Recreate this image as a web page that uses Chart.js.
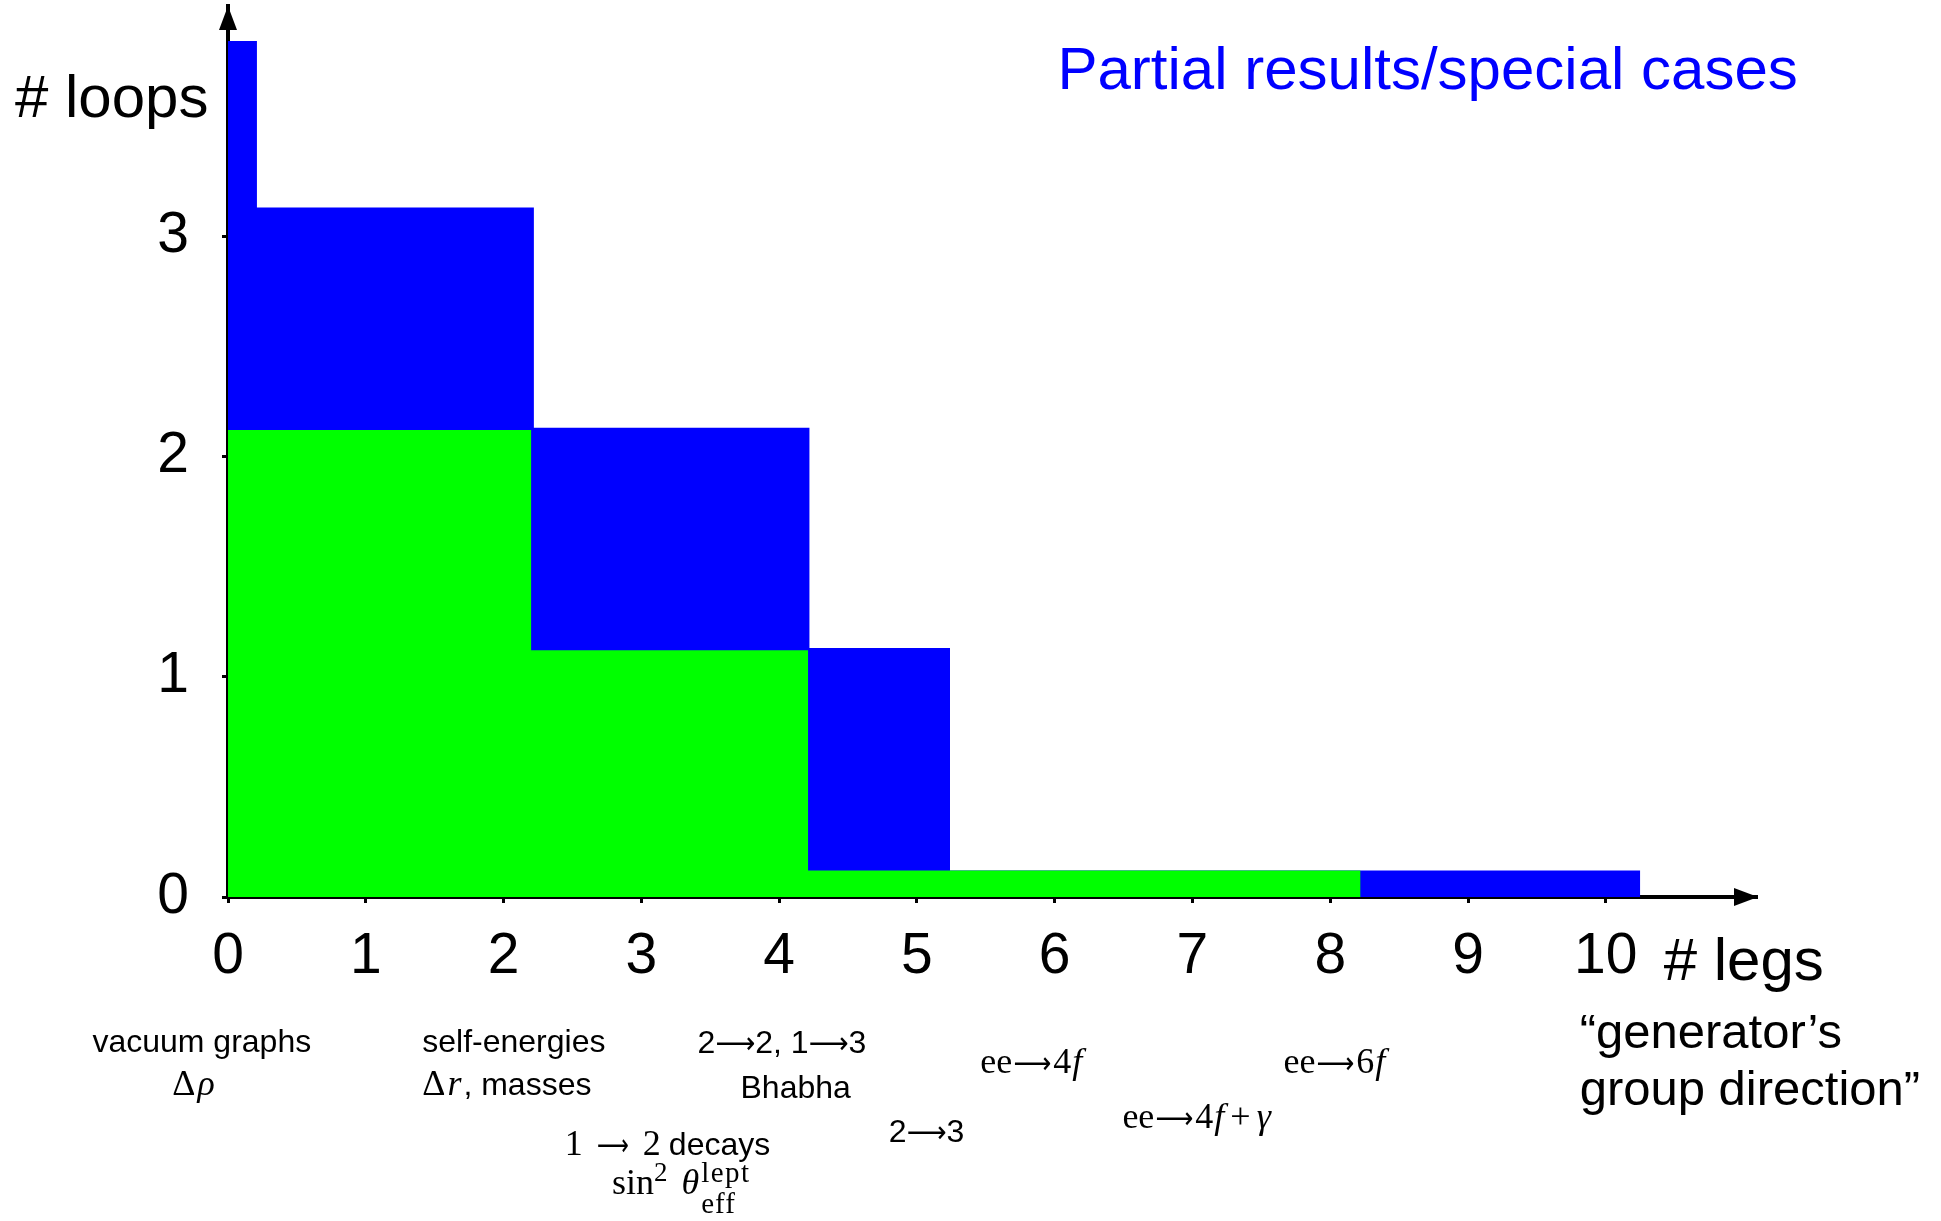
<!DOCTYPE html>
<html><head><meta charset="utf-8">
<script src="https://cdn.jsdelivr.net/npm/chart.js@4.4.1/dist/chart.umd.min.js"></script>
<style>html,body{margin:0;padding:0;background:#fff;overflow:hidden}#wrap{width:1941px;height:1221px}</style>
</head><body><div id="wrap"><canvas id="c" width="1941" height="1221"></canvas></div>
<script>
// ---- data ----
const xTickValues = [0, 1, 2, 3, 4, 5, 6, 7, 8, 9, 10];
const yTickValues = [0, 1, 2, 3];
// complete results (green), step boundaries in # legs and heights in # loops
const completeLegs  = [0, 2.2, 4.21, 8.22];
const completeLoops = [2.12, 1.12, 0.12, 0];
// partial results / special cases (blue)
const partialLegs  = [0, 0.21, 2.22, 4.22, 5.24, 10.25];
const partialLoops = [3.886, 3.13, 2.13, 1.13, 0.12, 0.12];

const SANS = '"Liberation Sans", Arial, Helvetica, sans-serif';
const SERIF = '"Liberation Serif", "Times New Roman", serif';

function pts(xs, ys) { return xs.map((x, i) => ({x: x, y: ys[i]})); }

function runWidth(ctx, r) {
  ctx.font = r.font;
  ctx.letterSpacing = (r.ls || 0) + 'px';
  const w = ctx.measureText(r.t).width;
  ctx.letterSpacing = '0px';
  return w;
}
function drawOne(ctx, r, x, y) {
  if (r.w) {
    const nat = runWidth(ctx, r);
    ctx.font = r.font;
    ctx.save(); ctx.translate(x, y + (r.dy || 0)); ctx.scale(r.w / nat, 1);
    ctx.fillText(r.t, 0, 0); ctx.restore();
  } else {
    ctx.font = r.font;
    ctx.letterSpacing = (r.ls || 0) + 'px';
    ctx.fillText(r.t, x, y + (r.dy || 0));
    ctx.letterSpacing = '0px';
  }
}
function drawRuns(ctx, runs, x, y, align) {
  const widths = runs.map(r => {
    if (r.stack) return Math.max(...r.stack.map(s => runWidth(ctx, s))) + (r.gap || 0) + (r.pre || 0);
    return (r.w || runWidth(ctx, r)) + (r.gap || 0) + (r.pre || 0);
  });
  const total = widths.reduce((p, c) => p + c, 0);
  let cx = align === 'center' ? x - total / 2 : (align === 'right' ? x - total : x);
  ctx.textAlign = 'left';
  ctx.textBaseline = 'alphabetic';
  runs.forEach((r, i) => {
    const px = cx + (r.pre || 0);
    if (r.stack) r.stack.forEach(s => drawOne(ctx, s, px, y));
    else drawOne(ctx, r, px, y);
    cx += widths[i];
  });
}

const overlay = {
  id: 'overlay',
  afterDraw(chart) {
    const ctx = chart.ctx, a = chart.chartArea;
    const xs = chart.scales.x;
    ctx.save();
    ctx.fillStyle = '#000';
    // arrow heads at the ends of the axes
    ctx.beginPath();
    ctx.moveTo(a.left, a.top); ctx.lineTo(a.left - 9, a.top + 24); ctx.lineTo(a.left + 9, a.top + 24); ctx.closePath(); ctx.fill();
    ctx.beginPath();
    ctx.moveTo(a.right + 2, a.bottom); ctx.lineTo(a.right - 22, a.bottom - 9); ctx.lineTo(a.right - 22, a.bottom + 9); ctx.closePath(); ctx.fill();

    const B = a.bottom;
    const X = v => xs.getPixelForValue(v);
    const s32 = '32px ' + SANS, m = '36px ' + SERIF, mi = 'italic 36px ' + SERIF;
    const sc = '27px ' + SERIF, sc2 = '29px ' + SERIF;
    const arr = '30px "DejaVu Sans", ' + SERIF;
    const A = '\u27F6';

    // axis titles
    drawRuns(ctx, [{t: '# loops', font: '60px ' + SANS}], a.left - 213, a.top + 111, 'left');
    drawRuns(ctx, [{t: '# legs', font: '60px ' + SANS}], X(10.42), B + 83, 'left');
    drawRuns(ctx, [{t: '\u201Cgenerator\u2019s', font: '49px ' + SANS}], X(9.81), B + 151, 'left');
    drawRuns(ctx, [{t: 'group direction\u201D', font: '49px ' + SANS}], X(9.81), B + 208, 'left');
    ctx.fillStyle = '#0000ff';
    drawRuns(ctx, [{t: 'Partial results/special cases', font: '60px ' + SANS}], X(6.02), a.top + 83, 'left');
    ctx.fillStyle = '#000';

    // annotations
    drawRuns(ctx, [{t: 'vacuum graphs', font: s32}], X(-0.19), B + 155, 'center');
    drawRuns(ctx, [{t: '\u0394', font: m, gap: 2}, {t: '\u03C1', font: mi}], X(-0.25), B + 198, 'center');
    drawRuns(ctx, [{t: 'self-energies', font: s32}], X(1.41), B + 155, 'left');
    drawRuns(ctx, [{t: '\u0394', font: m, gap: 2}, {t: 'r', font: mi, gap: 2}, {t: ', masses', font: s32}], X(1.41), B + 198, 'left');
    drawRuns(ctx, [{t: '2', font: s32}, {t: A, font: arr, w: 40}, {t: '2, 1', font: s32}, {t: A, font: arr, w: 40}, {t: '3', font: s32}], X(4.02), B + 156, 'center');
    drawRuns(ctx, [{t: 'Bhabha', font: s32}], X(4.12), B + 201, 'center');
    drawRuns(ctx, [{t: '1', font: m, gap: 14}, {t: A, font: arr, w: 32, gap: 14}, {t: '2', font: m, gap: 8}, {t: 'decays', font: s32}], X(3.19), B + 258, 'center');
    drawRuns(ctx, [{t: 'sin', font: m}, {t: '2', font: sc, dy: -13, gap: 14},
                   {t: '\u03B8', font: mi, gap: 2},
                   {stack: [{t: 'lept', font: sc2, dy: -12, ls: 1.5}, {t: 'eff', font: sc2, dy: 19, ls: 1}]}],
             X(3.29), B + 297, 'center');
    drawRuns(ctx, [{t: '2', font: s32}, {t: A, font: arr, w: 40}, {t: '3', font: s32}], X(5.07), B + 245, 'center');
    drawRuns(ctx, [{t: 'ee', font: m, gap: 1}, {t: A, font: arr, w: 38, gap: 2}, {t: '4', font: m, gap: 1}, {t: 'f', font: mi}], X(5.83), B + 176, 'center');
    drawRuns(ctx, [{t: 'ee', font: m, gap: 1}, {t: A, font: arr, w: 38, gap: 2}, {t: '4', font: m, gap: 1}, {t: 'f', font: mi, gap: 6}, {t: '+', font: m, gap: 6}, {t: '\u03B3', font: mi}], X(7.03), B + 231, 'center');
    drawRuns(ctx, [{t: 'ee', font: m, gap: 1}, {t: A, font: arr, w: 38, gap: 2}, {t: '6', font: m, gap: 1}, {t: 'f', font: mi}], X(8.03), B + 176, 'center');
    ctx.restore();
  }
};

function noPadY(s) { s.width = 228; s.paddingTop = 0; s.paddingBottom = 0; }
function noPadX(s) { s.height = 324; s.paddingLeft = 0; s.paddingRight = 0; }

new Chart(document.getElementById('c'), {
  type: 'line',
  data: {
    datasets: [
      {label: 'complete', data: pts(completeLegs, completeLoops), stepped: true, fill: 'origin',
       backgroundColor: '#00ff00', borderColor: '#00ff00', borderWidth: 0, pointRadius: 0},
      {label: 'partial', data: pts(partialLegs, partialLoops), stepped: true, fill: 'origin',
       backgroundColor: '#0000ff', borderColor: '#0000ff', borderWidth: 0, pointRadius: 0}
    ]
  },
  options: {
    responsive: false, animation: false, devicePixelRatio: 1,
    layout: {padding: {top: 6, right: 185, bottom: 0, left: 0}},
    plugins: {legend: {display: false}, tooltip: {enabled: false}},
    scales: {
      x: {type: 'linear', min: 0, max: 11.09, position: 'bottom',
          afterBuildTicks: s => { s.ticks = xTickValues.map(v => ({value: v})); },
          afterFit: noPadX,
          ticks: {font: {family: SANS, size: 57}, color: '#000', padding: 20, maxRotation: 0, autoSkip: false},
          grid: {display: true, drawOnChartArea: false, drawTicks: true, tickLength: 6, color: '#000', lineWidth: 3},
          border: {display: true, color: '#000', width: 4}},
      y: {type: 'linear', min: 0, max: 4.045,
          afterBuildTicks: s => { s.ticks = yTickValues.map(v => ({value: v})); },
          afterFit: noPadY,
          ticks: {font: {family: SANS, size: 57}, color: '#000', padding: 33, autoSkip: false},
          grid: {display: true, drawOnChartArea: false, drawTicks: true, tickLength: 6, color: '#000', lineWidth: 3},
          border: {display: true, color: '#000', width: 4}}
    }
  },
  plugins: [overlay]
});
</script>
</body></html>
